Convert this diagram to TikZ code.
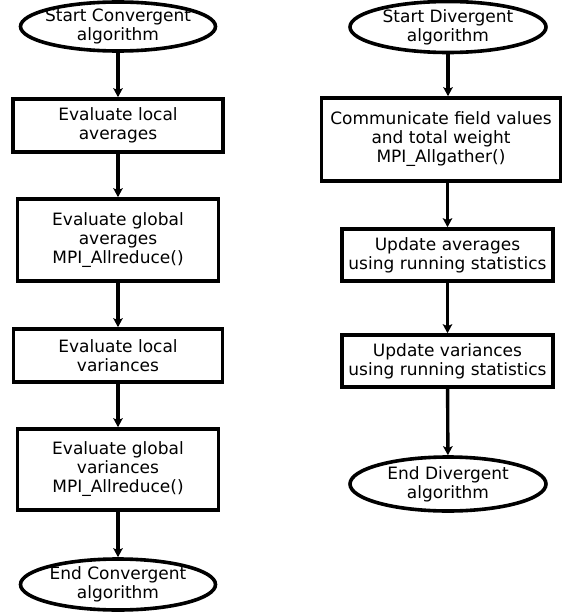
\documentclass[tikz,border=0pt]{standalone}
\usepackage{fontspec}
\setmainfont{DejaVu Sans}
\usetikzlibrary{shapes.geometric,arrows.meta}

\tikzset{
  flow/.style={draw=black, line width=3.6pt, align=center,
    font=\fontsize{17pt}{19pt}\selectfont},
  procbox/.style={flow, rectangle, inner sep=2pt},
  terminal/.style={flow, ellipse, inner xsep=-12pt, inner ysep=-6pt},
  link/.style={line width=3.4pt, -{Stealth[length=9pt,width=9.5pt,inset=2pt]}},
}

\begin{document}
\begin{tikzpicture}[x=1pt, y=-1pt]
\useasboundingbox (0,0) rectangle (563,615);

% convergent algorithm
\node[terminal, minimum width=195pt, minimum height=49pt] (s1) at (118,26.5)
  {Start Convergent\\algorithm};
\node[procbox, minimum width=210pt, minimum height=53pt] (b1) at (118,125.5)
  {Evaluate local\\averages};
\node[procbox, minimum width=201pt, minimum height=82pt] (b2) at (118,240)
  {Evaluate global\\averages\\MPI\_Allreduce()};
\node[procbox, minimum width=209pt, minimum height=53pt] (b3) at (118,355.5)
  {Evaluate local\\variances};
\node[procbox, minimum width=201pt, minimum height=81pt] (b4) at (118,469.5)
  {Evaluate global\\variances\\MPI\_Allreduce()};
\node[terminal, minimum width=195pt, minimum height=51pt] (e1) at (118,584.5)
  {End Convergent\\algorithm};

\draw[link] (s1) -- (b1);
\draw[link] (b1) -- (b2);
\draw[link] (b2) -- (b3);
\draw[link] (b3) -- (b4);
\draw[link] (b4) -- (e1);

% divergent algorithm
\node[terminal, minimum width=196pt, minimum height=51pt] (s2) at (448,27)
  {Start Divergent\\algorithm};
\node[procbox, minimum width=239pt, minimum height=83pt] (c1) at (441,139.5)
  {Communicate field values\\and total weight\\MPI\_Allgather()};
\node[procbox, minimum width=211pt, minimum height=52pt] (c2) at (447.5,255)
  {Update averages\\using running statistics};
\node[procbox, minimum width=211pt, minimum height=52pt] (c3) at (447.5,361)
  {Update variances\\using running statistics};
\node[terminal, minimum width=196pt, minimum height=54pt] (e2) at (448,484)
  {End Divergent\\algorithm};

\draw[link] (s2) -- (s2 |- c1.north);
\draw[link] (c1.south -| c2) -- (c2);
\draw[link] (c2) -- (c3);
\draw[link] (c3) -- (e2);
\end{tikzpicture}
\end{document}
